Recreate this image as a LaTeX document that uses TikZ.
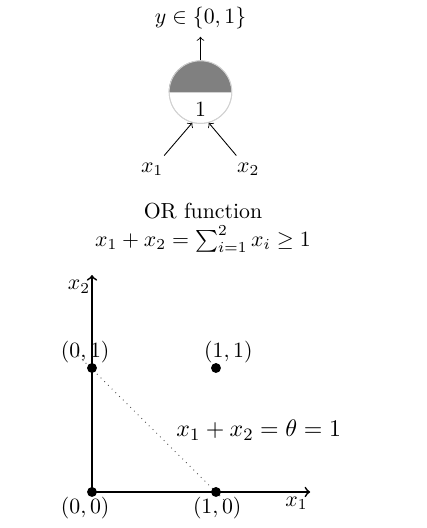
\documentclass[tikz,border=0pt]{standalone}
\usepackage{amsmath}
\usetikzlibrary{positioning}
\tikzset{
  neuron/.style={circle, draw=gray!35, minimum size=1.01cm, inner sep=0pt},
  dot/.style={circle, fill=black, inner sep=0pt, minimum size=0.16cm},
  axis/.style={thick,->}
}
\begin{document}
\begin{tikzpicture}[->]
    \useasboundingbox (-1.484,-0.581) rectangle (5.403,7.936);
    % the unit
    \node[neuron] (n) at (1.75,6.45) {};
    \fill[gray] (n.west) arc (180:0:0.505cm) -- cycle;
    \draw[-,gray!35] (n.west) -- (n.east);
    \draw[-,gray!35] (n) circle (0.505cm);
    \node[below=1pt of n.center] (one) {$1$};
    \node[above=0.38cm of n] (y) {$y\in\{0,1\}$};
    \node (x1) at (0.97,5.2) {$x_1$};
    \node (x2) at (2.52,5.2) {$x_2$};
    \draw (n) -- (y);
    \draw (x1) -- (n.-105);
    \draw (x2) -- (n.-75);
    \node[align=center] (or) at (1.79,4.26) {OR function\\[1pt] $x_1+x_2=\sum_{i=1}^2 x_i\geq 1$};
    % the plane
    \coordinate (o) at (0,0);
    \coordinate (xend) at (3.52,0);
    \coordinate (yend) at (0,3.5);
    \coordinate (la) at (-0.22,2.2);
    \coordinate (lb) at (2.14,-0.14);
    \draw[-,dotted,black!70] (la) -- (lb);
    \draw[axis] (o) -- (xend);
    \draw[axis] (o) -- (yend);
    \node (lx1) at (3.30,-0.18) {$x_1$};
    \node (lx2) at (-0.21,3.31) {$x_2$};
    \node[dot] (00) at (0,0) {};
    \node[dot] (10) at (2,0) {};
    \node[dot] (01) at (0,2) {};
    \node[dot] (11) at (2,2) {};
    \node (l00) at (-0.11,-0.26) {$(0,0)$};
    \node (l10) at (2.02,-0.26) {$(1,0)$};
    \node (l01) at (-0.11,2.26) {$(0,1)$};
    \node (l11) at (2.2,2.26) {$(1,1)$};
    \node[font=\fontsize{11}{13}\selectfont] (theta) at (2.69,1.0) {$x_1+x_2=\theta=1$};
\end{tikzpicture}
\end{document}
